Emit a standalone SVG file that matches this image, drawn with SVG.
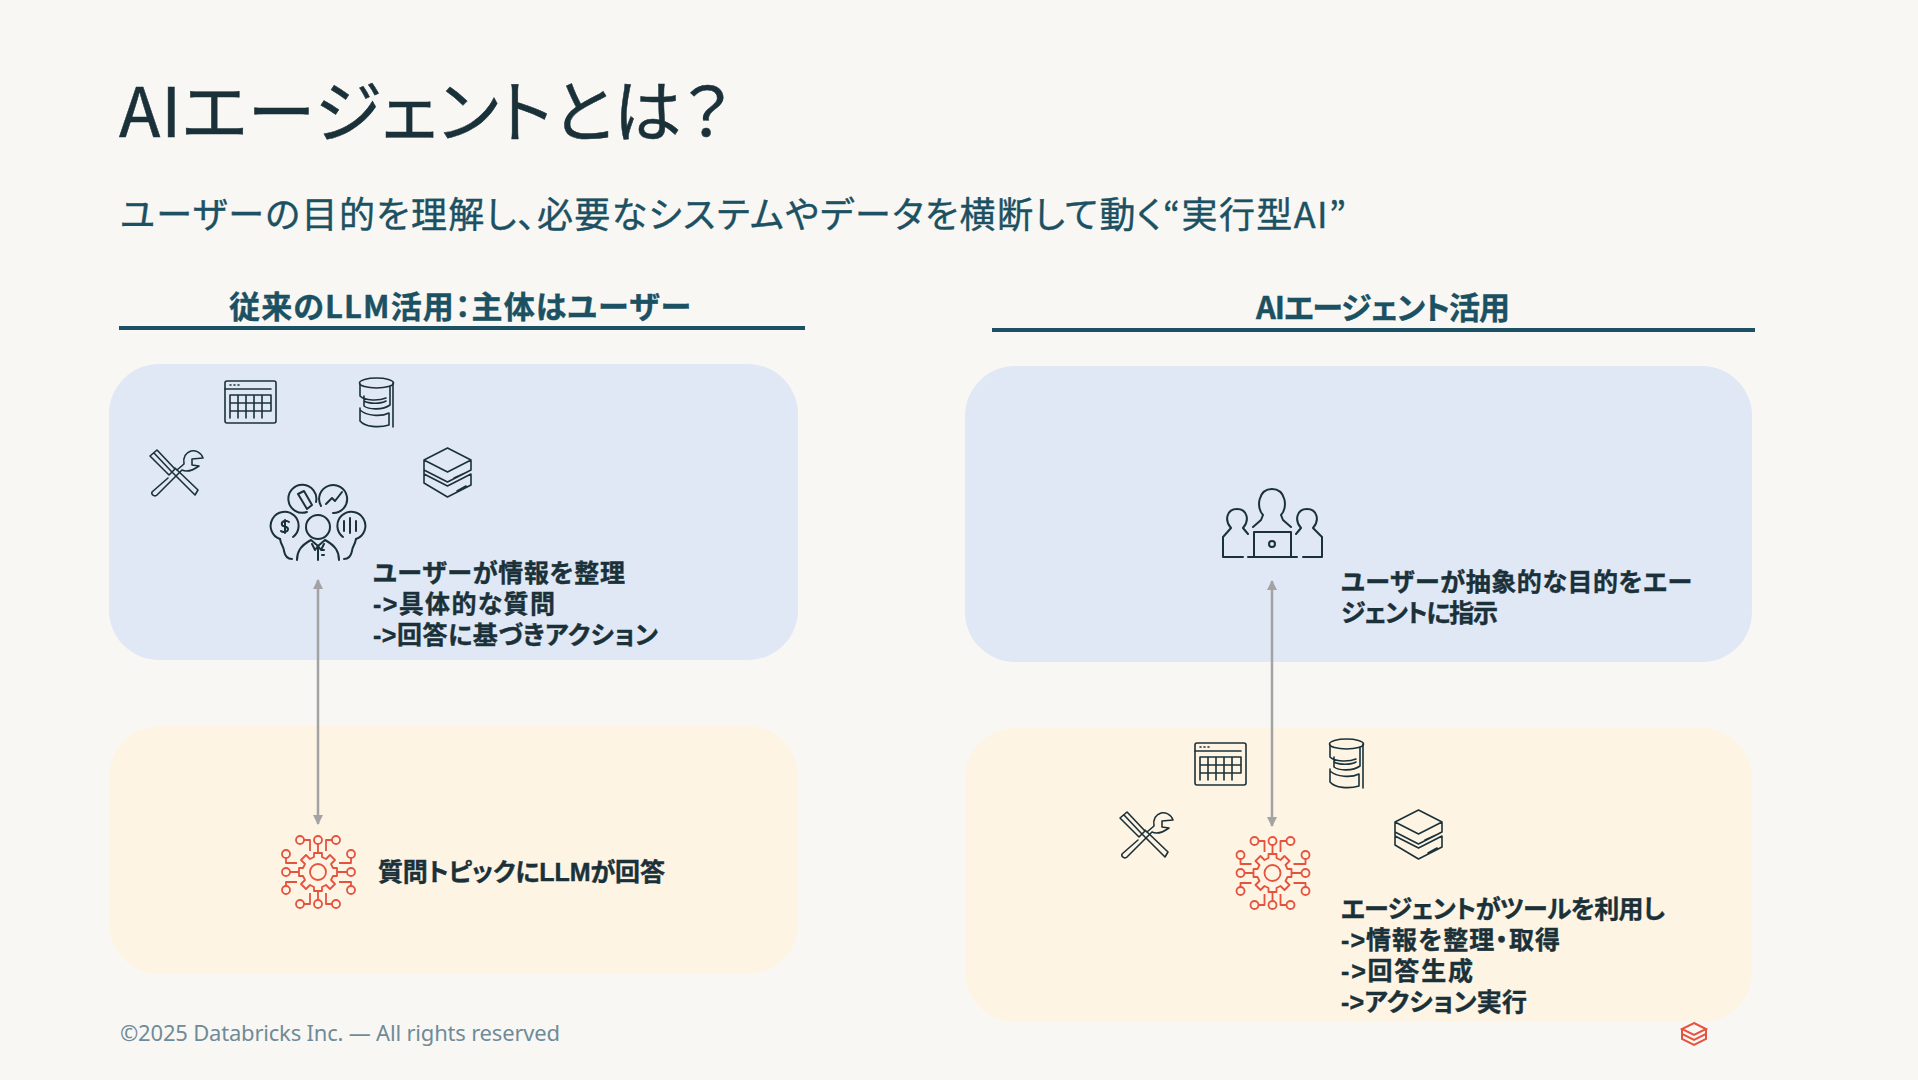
<svg xmlns="http://www.w3.org/2000/svg" width="1918" height="1080" viewBox="0 0 1918 1080">
<style>
text{font-family:"Noto Sans CJK JP","Noto Sans",sans-serif;fill:#1B3139;font-feature-settings:"palt"}
.title{font-size:68px;font-weight:400;stroke:#1B3139;stroke-width:.5}
.sub{font-size:36px;fill:#1B5162;font-weight:400;stroke:#1B5162;stroke-width:.4}
.head{font-size:31px;font-weight:700;fill:#1B5162;text-anchor:middle;stroke:#1B5162;stroke-width:.4}
.body{font-family:"Liberation Sans","Noto Sans CJK JP",sans-serif;font-size:25px;font-weight:700;stroke:#1B3139;stroke-width:.4}
.foot{font-family:"Noto Sans",sans-serif;font-size:22px;fill:#6F8B98;font-feature-settings:normal}
.blue{fill:#E0E8F5}
.cream{fill:#FDF4E4}
.rule{stroke:#1B5162;stroke-width:4}
.ic{fill:none;stroke:#1B3139;stroke-width:1.600;stroke-linejoin:round;stroke-linecap:round}
.gear{fill:none;stroke:#E5533F;stroke-width:1.800;stroke-linejoin:round}
.arrow{stroke:#A3A3A3;stroke-width:2.500;fill:none;marker-start:url(#ah);marker-end:url(#ah)}
</style>
<defs>
<marker id="ah" viewBox="0 0 10 10" refX="9" refY="5" markerWidth="5" markerHeight="4" orient="auto-start-reverse" markerUnits="strokeWidth"><path d="M0 0L10 5L0 10Z" fill="#A3A3A3"/></marker>
<symbol id="table" overflow="visible" viewBox="0 0 52 43" width="52" height="43">
<rect x="1" y="1" width="51" height="42" rx="2" class="ic"/>
<path class="ic" d="M1 9H47" stroke-width="2.500"/>
<path class="ic" d="M6 5h1M10 5h1M14 5h1M6 15H47V31H6ZM6 23H47M14 15V38M22 15V38M30 15V38M38 15V38M6 15V38"/>
</symbol>
<symbol id="db" overflow="visible" viewBox="0 0 35 50" width="35" height="50">
<ellipse cx="17.500" cy="6" rx="17" ry="5" class="ic"/>
<path class="ic" d="M1 7V19C6 24 20 24 27 21M31 10V28C24 33 10 33 5 29V19M34 6V50M5 24C10 27 22 27 27 24M1 31V44C6 50 20 51 30 48V36C22 40 8 39 1 33"/>
</symbol>
<symbol id="tools" overflow="visible" viewBox="0 0 54 47" width="54" height="47">
<path class="ic" d="M1 7L8 1L26 20L20 26ZM5 4L22 22M9 2L25 19M22 22L46 46L49 41L26 19"/>
<path class="ic" d="M19 29L3 43C2 46 6 48 8 46L33 21C37 23 43 22 50 17L43 16L43 10L54 9C52 3 46 1 42 2C36 4 34 9 35 15L28 21"/>
</symbol>
<symbol id="stack" overflow="visible" viewBox="0 0 49 51" width="49" height="51">
<path class="ic" d="M24.500 1L48 13V23L24.500 35L1 23V13ZM1 13L24.500 25L48 13M1 23V36L24.500 50L48 38V27M1 27L24.500 39L48 27M31 31l11-5M34 44l9-5"/>
</symbol>
<symbol id="agent" overflow="visible" viewBox="-38 -38 76 76" width="76" height="76">
<circle r="8" class="gear"/>
<path class="gear" d="M4-19V-15L8-13L12-17L17-12L13-8L15-4H19V4H15L13 8L17 12L12 17L8 13L4 15V19H-4V15L-8 13L-12 17L-17 12L-13 8L-15 4H-19V-4H-15L-13-8L-17-12L-12-17L-8-13L-4-15V-19Z"/>
<circle cx="-18" cy="-32" r="4" class="gear"/><circle cx="0" cy="-32" r="4" class="gear"/><circle cx="18" cy="-32" r="4" class="gear"/>
<circle cx="-32" cy="-18" r="4" class="gear"/><circle cx="33" cy="-18" r="4" class="gear"/>
<circle cx="-32" cy="0" r="4" class="gear"/><circle cx="33" cy="0" r="4" class="gear"/>
<circle cx="-32" cy="18" r="4" class="gear"/><circle cx="33" cy="18" r="4" class="gear"/>
<circle cx="-18" cy="32" r="4" class="gear"/><circle cx="0" cy="32" r="4" class="gear"/><circle cx="18" cy="32" r="4" class="gear"/>
<path class="gear" d="M-14-32H-8V-21M14-32H8V-21M0-28V-19M-14 32H-8V21M14 32H8V21M0 28V19M-32-14V-9H-21M33-14V-9H21M-28 0H-19M29 0H19M-32 14V10H-21M33 14V10H21"/>
</symbol>
</defs>
<rect id="background" width="1918" height="1080" fill="#F9F7F4"/>
<text class="title" x="119" y="137" textLength="612">AIエージェントとは？</text>
<text class="sub" x="120" y="228" textLength="1226">ユーザーの目的を理解し、必要なシステムやデータを横断して動く“実行型AI”</text>
<g id="left-header"><text class="head" x="460" y="318" textLength="462">従来のLLM活用：主体はユーザー</text><line class="rule" x1="119" y1="328" x2="805" y2="328"/></g>
<g id="right-header"><text class="head" x="1383" y="319" textLength="254">AIエージェント活用</text><line class="rule" x1="992" y1="330" x2="1755" y2="330"/></g>
<g id="left-user-panel"><rect class="blue" x="109" y="364" width="689" height="296" rx="50"/></g>
<g id="left-llm-panel"><rect class="cream" x="109" y="726" width="689" height="248" rx="50"/></g>
<g id="right-user-panel"><rect class="blue" x="965" y="366" width="787" height="296" rx="50"/></g>
<g id="right-agent-panel"><rect class="cream" x="965" y="728" width="787" height="294" rx="50"/></g>
<g id="connectors">
<line class="arrow" x1="318" y1="580" x2="318" y2="824"/>
<line class="arrow" x1="1272" y1="581" x2="1272" y2="826"/>
</g>
<g id="left-tools"><use href="#table" x="224" y="380"/><use href="#db" x="359" y="377"/><use href="#tools" x="149" y="449"/><use href="#stack" x="423" y="447"/></g>
<g id="analyst" class="ic" style="stroke-width:2">
<path d="M316 502A14 14 0 1 0 307 512M321 506A14 14 0 1 1 333 513M280 539A14 14 0 1 1 293 537M356 539A14 14 0 1 0 343 537"/>
<circle cx="318" cy="527" r="12"/>
<path d="M280 539C281 545 284 547 284 551C285 556 288 559 292 559M356 539C355 545 352 547 352 551C351 556 348 559 344 559M297 560C297 552 300 546 311 540L318 546L325 540C336 546 339 552 339 560M318 546V560M322 550h2M322 555h2M312 544l3 6l3-4l3 4l3-6"/>
<path d="M298 494L307 509L312 505L304 491Z"/><path d="M326 504L332 498L335 501L342 492"/><path d="M285 520V533M289 522C285 519 281 522 282 525C283 527 288 526 288 529C288 532 283 533 281 531M344 521V531M350 518V533M356 521V531"/>
</g>
<g id="left-llm"><use href="#agent" x="280" y="834"/></g>
<g id="team" class="ic" style="stroke-width:2">
<path d="M1263 515C1256 508 1258 489 1272 489C1286 489 1288 508 1281 515L1283 520L1291 527M1263 515L1261 520L1253 527"/>
<path d="M1231 528C1224 520 1227 509 1237 509C1247 509 1250 520 1243 528L1248 534M1231 528L1223 537V557H1243M1313 528C1320 520 1317 509 1307 509C1297 509 1294 520 1301 528L1296 534M1313 528L1322 537V557H1303M1254 556V532H1291V556M1248 557H1297"/>
<circle cx="1272" cy="544" r="3"/>
</g>
<g id="right-tools"><use href="#table" x="1194" y="742"/><use href="#db" x="1329" y="738"/><use href="#tools" x="1119" y="811"/><use href="#stack" x="1394" y="809"/></g>
<g id="right-agent"><use href="#agent" x="1234.500" y="835"/></g>
<g id="left-user-text"><text class="body"><tspan x="373" y="582" textLength="252">ユーザーが情報を整理</tspan><tspan x="373" y="613" textLength="182">-&gt;具体的な質問</tspan><tspan x="373" y="644" textLength="285">-&gt;回答に基づきアクション</tspan></text></g>
<g id="left-llm-text"><text class="body" x="378" y="881" textLength="287">質問トピックにLLMが回答</text></g>
<g id="right-user-text"><text class="body"><tspan x="1341" y="591" textLength="351">ユーザーが抽象的な目的をエー</tspan><tspan x="1341" y="622" textLength="157">ジェントに指示</tspan></text></g>
<g id="right-agent-text"><text class="body"><tspan x="1341" y="918" textLength="324">エージェントがツールを利用し</tspan><tspan x="1341" y="949" textLength="219">-&gt;情報を整理・取得</tspan><tspan x="1341" y="980" textLength="132">-&gt;回答生成</tspan><tspan x="1341" y="1011" textLength="186">-&gt;アクション実行</tspan></text></g>
<text class="foot" x="120" y="1041" textLength="440">©2025 Databricks Inc. — All rights reserved</text>
<g id="logo" fill="none" stroke="#E5533F" stroke-width="2"><path d="M1694 1023L1706 1029L1694 1035L1682 1029ZM1682 1029V1034L1694 1040L1706 1034V1029M1682 1034V1039L1694 1045L1706 1039V1034"/></g>
</svg>
